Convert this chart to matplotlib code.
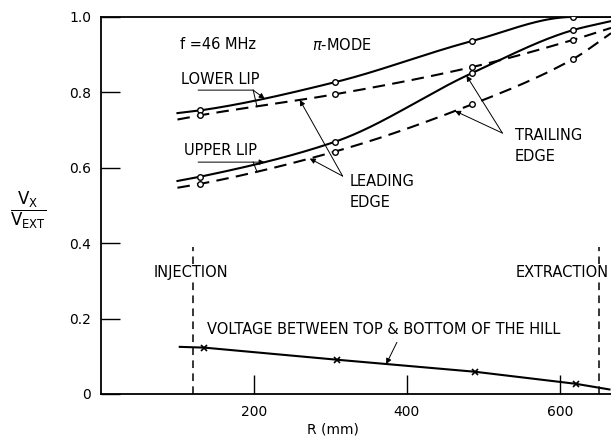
import matplotlib
matplotlib.use('Agg')
import numpy as np
import matplotlib.pyplot as plt

plt.rcParams['font.family'] = 'DejaVu Sans'
plt.rcParams['mathtext.fontset'] = 'dejavusans'

# radius (mm) where the curves were measured
r_meas = [129, 306, 485, 617]
# curve extents (start / end of drawn lines)
r_curve = [100, 129, 306, 485, 617, 667]

lower_lead = [0.745, 0.752, 0.827, 0.936, 1.0, 1.0]     # lower lip, solid
lower_trail = [0.728, 0.739, 0.795, 0.867, 0.939, 0.971]  # lower lip, dashed
upper_lead = [0.565, 0.576, 0.669, 0.851, 0.965, 0.989]   # upper lip, solid
upper_trail = [0.547, 0.557, 0.643, 0.768, 0.888, 0.957]  # upper lip, dashed

r_volt = [103, 135, 308, 489, 621, 665]
volt = [0.125, 0.123, 0.091, 0.059, 0.027, 0.012]

r_inj = 120
r_ext = 651

xticks = [200, 400, 600]
yticks = [0, 0.2, 0.4, 0.6, 0.8, 1.0]
ytick_labels = ['0', '0.2', '0.4', '0.6', '0.8', '1.0']


def pchip(x, y, xs):
    x = np.asarray(x, float)
    y = np.asarray(y, float)
    xs = np.atleast_1d(np.asarray(xs, float))
    h = np.diff(x)
    d = np.diff(y) / h
    n = len(x)
    m = np.zeros(n)
    m[0] = d[0]
    m[-1] = d[-1]
    for k in range(1, n - 1):
        if d[k - 1] * d[k] <= 0:
            m[k] = 0.0
        else:
            w1 = 2 * h[k] + h[k - 1]
            w2 = h[k] + 2 * h[k - 1]
            m[k] = (w1 + w2) / (w1 / d[k - 1] + w2 / d[k])
    i = np.clip(np.searchsorted(x, xs) - 1, 0, n - 2)
    t = (xs - x[i]) / h[i]
    h00 = 2 * t**3 - 3 * t**2 + 1
    h10 = t**3 - 2 * t**2 + t
    h01 = -2 * t**3 + 3 * t**2
    h11 = t**3 - t**2
    return h00 * y[i] + h10 * h[i] * m[i] + h01 * y[i + 1] + h11 * h[i] * m[i + 1]


def at(vals, r):
    return pchip(r_curve, vals, r)[0]


fig = plt.figure(figsize=(6.11, 4.41), dpi=100)
ax = fig.add_axes([0.1653, 0.1066, 0.8347, 0.8549])

xs = np.linspace(r_curve[0], r_curve[-1], 400)
dash = (6, 3.5)
for vals, ls in [(lower_lead, '-'), (lower_trail, '--'),
                 (upper_lead, '-'), (upper_trail, '--')]:
    ys = pchip(r_curve, vals, xs)
    line, = ax.plot(xs, ys, color='black', lw=1.5, ls=ls)
    if ls == '--':
        line.set_dashes(dash)
    ax.plot(r_meas, vals[1:5], ls='none', marker='o', ms=4, mfc='white',
            mec='black', mew=1, zorder=5)

ax.plot(r_volt, volt, color='black', lw=1.5)
ax.plot(r_volt[1:5], volt[1:5], ls='none', marker='x', ms=4, mew=1.2,
        color='black', zorder=5)

for r in (r_inj, r_ext):
    ax.plot([r, r], [0, 0.39], color='black', lw=1.1, dashes=(5, 3.5))

ax.set_xlim(0, 667)
ax.set_ylim(0, 1.0)
ax.set_xticks(xticks)
ax.set_yticks(yticks)
ax.set_yticklabels(ytick_labels)
ax.tick_params(direction='in', length=14, width=1, labelsize=10)
ax.tick_params(axis='y', pad=7)
ax.tick_params(axis='x', pad=8)
for s in ('left', 'bottom', 'top'):
    ax.spines[s].set_linewidth(1.3)
ax.spines['right'].set_visible(False)

fs = 10.5
ax.text(103, 0.926, 'f =46 MHz', fontsize=fs, va='center')
ax.text(276, 0.926, r'$\pi$-MODE', fontsize=fs, va='center')

ax.text(156, 0.835, 'LOWER LIP', fontsize=fs, ha='center', va='center')
ax.text(156, 0.645, 'UPPER LIP', fontsize=fs, ha='center', va='center')
ax.text(325, 0.535, 'LEADING\nEDGE', fontsize=fs, va='center', linespacing=1.5)
ax.text(541, 0.657, 'TRAILING\nEDGE', fontsize=fs, va='center', linespacing=1.5)
ax.text(117, 0.321, 'INJECTION', fontsize=fs, ha='center', va='center',
        bbox=dict(fc='white', ec='none', pad=1))
ax.text(603, 0.321, 'EXTRACTION', fontsize=fs, ha='center', va='center',
        bbox=dict(fc='white', ec='none', pad=1))
ax.text(138, 0.172, 'VOLTAGE BETWEEN TOP & BOTTOM OF THE HILL', fontsize=fs,
        va='center')

arrow = dict(arrowstyle='-|>', color='black', lw=0.7, mutation_scale=8,
             shrinkA=0, shrinkB=0)
plain = dict(arrowstyle='-', color='black', lw=0.7, shrinkA=0, shrinkB=0)

# lip leaders
for (ty, lead, trail) in [(0.806, lower_lead, lower_trail),
                          (0.615, upper_lead, upper_trail)]:
    ax.annotate('', xy=(199, ty), xytext=(127, ty), arrowprops=plain)
    ax.annotate('', xy=(214, at(lead, 214)), xytext=(199, ty), arrowprops=arrow)
    ax.annotate('', xy=(204, at(trail, 204)), xytext=(199, ty), arrowprops=plain)

# leading edge
ax.annotate('', xy=(260, at(lower_trail, 260)), xytext=(316, 0.578),
            arrowprops=arrow)
ax.annotate('', xy=(273, at(upper_trail, 273)), xytext=(316, 0.578),
            arrowprops=arrow)
# trailing edge
ax.annotate('', xy=(478, at(upper_lead, 478)), xytext=(525, 0.692),
            arrowprops=arrow)
ax.annotate('', xy=(463, at(upper_trail, 463)), xytext=(525, 0.692),
            arrowprops=arrow)
# voltage
ax.annotate('', xy=(373, np.interp(373, r_volt, volt)), xytext=(387, 0.137),
            arrowprops=arrow)

fig.text(0.545, 0.025, 'R (mm)', fontsize=10, ha='center', va='center')
fig.text(0.046, 0.522, r'$\dfrac{\mathrm{V_X}}{\mathrm{V_{EXT}}}$', fontsize=12,
         ha='center', va='center')

fig.savefig('out.png', dpi=100)
